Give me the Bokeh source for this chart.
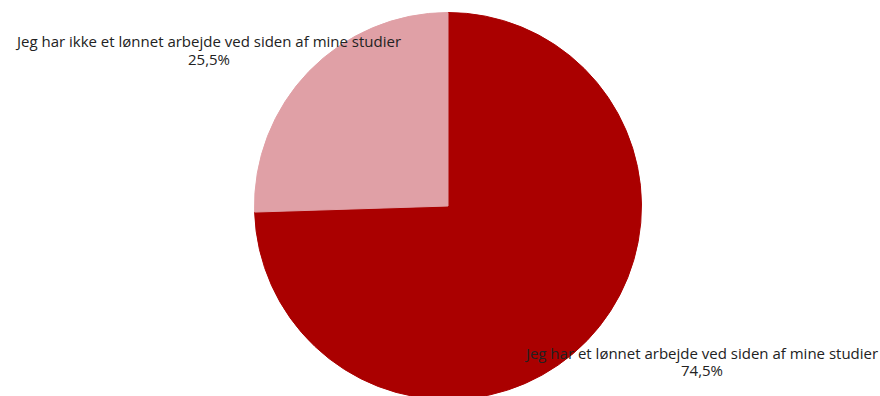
import math
from bokeh.plotting import figure
from bokeh.models import ColumnDataSource, Range1d
from bokeh.core.properties import value
from bokeh.embed import file_html
from bokeh.resources import INLINE

categories = ["Jeg har et lønnet arbejde ved siden af mine studier",
              "Jeg har ikke et lønnet arbejde ved siden af mine studier"]
values = [74.5, 25.5]
colors = ["#AA0000", "#E0A0A6"]

W, H = 880, 396
cx, cy, r = 447.5, 190.5, 193.5
label_pos = [(701.5, 44), (208.5, 355.5)]
line_gap = 17.5

total = sum(values)
starts, ends = [], []
acc = 0.0
for v in values:
    starts.append(math.pi / 2 - 2 * math.pi * acc / total)
    acc += v
    ends.append(math.pi / 2 - 2 * math.pi * acc / total)

src = ColumnDataSource(dict(start=starts, end=ends, color=colors))

p = figure(width=W, height=H, output_backend="svg", toolbar_location=None,
           x_range=Range1d(0, W), y_range=Range1d(0, H), min_border=0)
p.axis.visible = False
p.grid.visible = False
p.outline_line_color = None
p.background_fill_color = "white"

p.wedge(x=cx, y=cy, radius=r, start_angle="start", end_angle="end",
        direction="clock", fill_color="color", line_color="color", source=src)

xs, ys, ts = [], [], []
for (lx, ly), c, v in zip(label_pos, categories, values):
    xs += [lx, lx]
    ys += [ly, ly - line_gap]
    ts += [c, str(v).replace('.', ',') + "%"]
tsrc = ColumnDataSource(dict(x=xs, y=ys, t=ts))
p.text(x="x", y="y", text="t", source=tsrc, text_align="center", text_baseline="middle",
       text_font=value("Open Sans"), text_font_size="15px", text_color="#222222")

open("out.html", "w").write(file_html(p, INLINE))
